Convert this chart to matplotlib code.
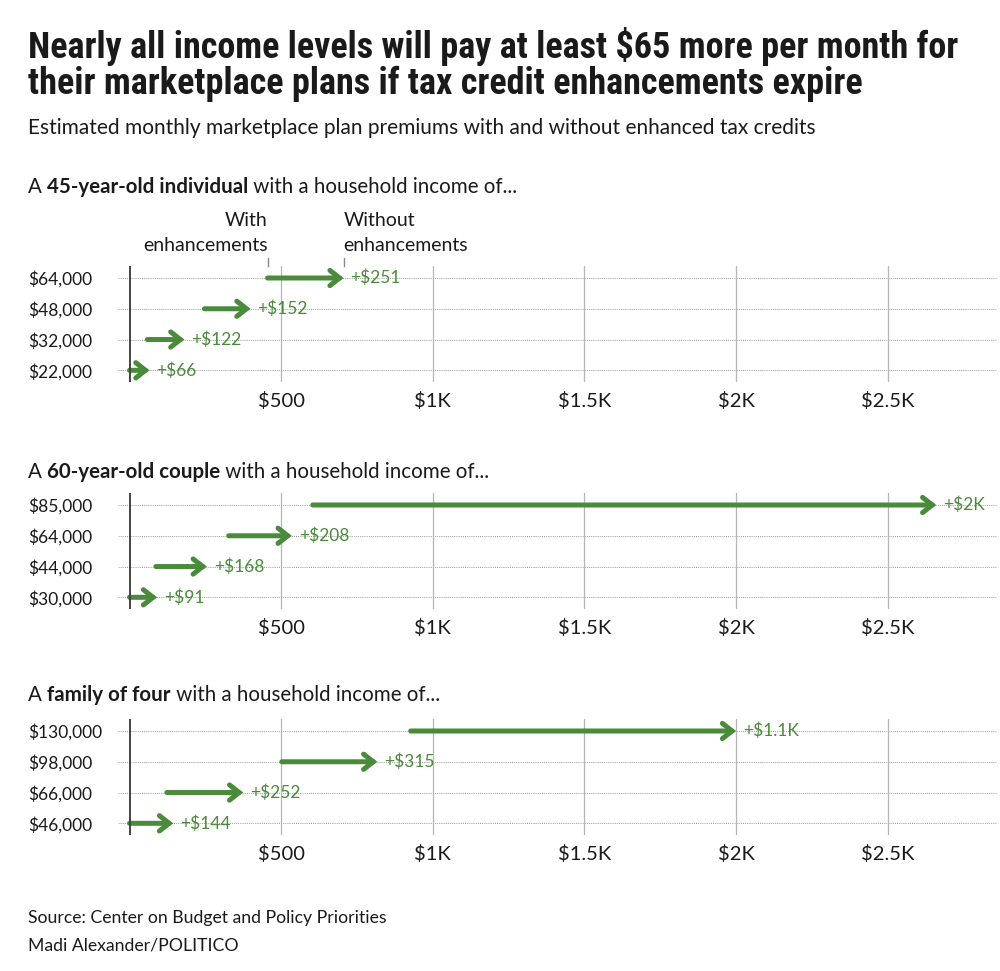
import numpy as np
import matplotlib.pyplot as plt
from matplotlib.patches import FancyArrowPatch

# premium data ($/month)
ind_incomes = ['$64,000', '$48,000', '$32,000', '$22,000']
ind_with = [455, 247, 59, 0]
ind_without = [706, 399, 181, 66]
ind_labels = ['+$251', '+$152', '+$122', '+$66']

cpl_incomes = ['$85,000', '$64,000', '$44,000', '$30,000']
cpl_with = [604, 327, 87, 0]
cpl_without = [2660, 535, 255, 91]
cpl_labels = ['+$2K', '+$208', '+$168', '+$91']

fam_incomes = ['$130,000', '$98,000', '$66,000', '$46,000']
fam_with = [927, 502, 123, 0]
fam_without = [2000, 817, 375, 144]
fam_labels = ['+$1.1K', '+$315', '+$252', '+$144']

xticks = [500, 1000, 1500, 2000, 2500]
xtick_labels = ['$500', '$1K', '$1.5K', '$2K', '$2.5K']

GREEN = '#4a8a3b'
INK = '#1a1a1a'
BODY = ['Lato', 'DejaVu Sans']
TITLE = ['Roboto Condensed', 'Liberation Sans Narrow', 'DejaVu Sans']

W, H = 1000, 971
fig = plt.figure(figsize=(W / 100, H / 100), dpi=100)


def fx(px):
    return px / W


def fy(py):
    return 1 - py / H


def add_panel(top_px, incomes, with_vals, without_vals, labels):
    left, right, bottom = 118, 997, top_px + 116
    ax = fig.add_axes([fx(left), fy(bottom), fx(right - left), 116 / H])
    ax.set_xlim(-38, 2860)
    ax.set_ylim(-0.38, 3.39)
    rows = np.arange(len(incomes))[::-1]

    for r in rows:
        ax.axhline(r, color='#9a9a9a', lw=0.7, ls=(0, (1, 1.2)), zorder=1)
    for t in xticks:
        ax.axvline(t, color='#b5b5b5', lw=0.9, zorder=1)
    ax.axvline(0, color='#444444', lw=1.4, zorder=4)

    for r, a, b, lab in zip(rows, with_vals, without_vals, labels):
        arr = FancyArrowPatch((a, r), (b, r),
                              arrowstyle='->,head_length=7,head_width=5.5',
                              mutation_scale=1, color=GREEN, lw=3.6,
                              capstyle='round', joinstyle='miter',
                              shrinkA=0, shrinkB=0, zorder=3)
        ax.add_patch(arr)
        ax.annotate(lab, (b, r), xytext=(5, 0), textcoords='offset points',
                    va='center', ha='left', color=GREEN, fontsize=12.5,
                    family=BODY)

    ax.set_yticks(rows)
    ax.set_yticklabels(incomes)
    ax.set_xticks(xticks)
    ax.set_xticklabels(xtick_labels)
    ax.tick_params(length=0, labelcolor=INK)
    ax.tick_params(axis='x', pad=7, labelsize=14.5)
    ax.tick_params(axis='y', pad=64.8, labelsize=12.5)
    for lab in ax.get_yticklabels() + ax.get_xticklabels():
        lab.set_family(BODY)
    for lab in ax.get_yticklabels():
        lab.set_horizontalalignment('left')
    for s in ax.spines.values():
        s.set_visible(False)
    ax.patch.set_alpha(0)
    return ax


def panel_title(y_px, before, bold, after):
    t1 = fig.text(fx(28), fy(y_px), before, fontsize=14.8, color=INK,
                  family=BODY, va='baseline')
    t2 = fig.add_artist(plt.Annotation(bold, xy=(1, 0), xycoords=t1, va='bottom',
                                       fontsize=14.8, color=INK, family=BODY,
                                       weight='bold', annotation_clip=False))
    fig.add_artist(plt.Annotation(after, xy=(1, 0), xycoords=t2, va='bottom',
                                  fontsize=14.8, color=INK, family=BODY,
                                  annotation_clip=False))


# title block
fig.text(fx(28), fy(58), 'Nearly all income levels will pay at least $65 more per month for',
         fontsize=26, weight='bold', color=INK, family=TITLE, va='baseline')
fig.text(fx(28), fy(94), 'their marketplace plans if tax credit enhancements expire',
         fontsize=26, weight='bold', color=INK, family=TITLE, va='baseline')
fig.text(fx(28), fy(134), 'Estimated monthly marketplace plan premiums with and without enhanced tax credits',
         fontsize=15, color=INK, family=BODY, va='baseline')

ax1 = add_panel(266, ind_incomes, ind_with, ind_without, ind_labels)
ax2 = add_panel(493, cpl_incomes, cpl_with, cpl_without, cpl_labels)
ax3 = add_panel(719, fam_incomes, fam_with, fam_without, fam_labels)

panel_title(193, 'A ', '45-year-old individual', ' with a household income of...')
panel_title(478, 'A ', '60-year-old couple', ' with a household income of...')
panel_title(701, 'A ', 'family of four', ' with a household income of...')

# with / without callouts on the top row of the first panel
for xv, ha, txt in [(ind_with[0], 'right', 'With\nenhancements'),
                    (ind_without[0], 'left', 'Without\nenhancements')]:
    ax1.plot([xv, xv], [3.39, 3.65], color='#888888', lw=1, clip_on=False)
    ax1.annotate(txt, xy=(xv, 3.65), xytext=(0, 3), textcoords='offset points',
                 ha=ha, va='bottom', multialignment=ha, fontsize=14,
                 color=INK, family=BODY, linespacing=1.55, annotation_clip=False)

fig.text(fx(28), fy(923), 'Source: Center on Budget and Policy Priorities',
         fontsize=12.7, color=INK, family=BODY, va='baseline')
fig.text(fx(28), fy(950), 'Madi Alexander/POLITICO',
         fontsize=12.7, color=INK, family=BODY, va='baseline')

fig.savefig('out.png', dpi=100, facecolor='white')
